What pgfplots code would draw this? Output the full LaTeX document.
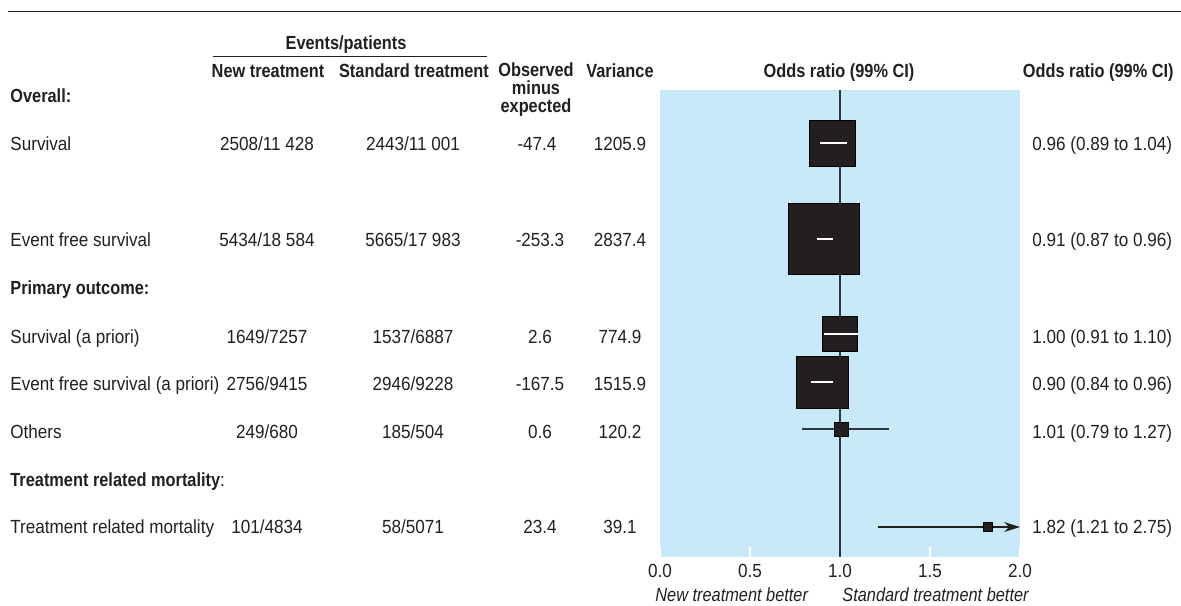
\documentclass[border=0pt]{standalone}
\usepackage{fontspec}
\setmainfont{Liberation Sans}[
  UprightFeatures={FakeStretch=0.9},
  BoldFeatures={FakeStretch=0.86},
  ItalicFeatures={FakeStretch=0.86}]
\usepackage{pgfplots}
\pgfplotsset{compat=1.18}
\usetikzlibrary{arrows.meta}

\definecolor{panel}{RGB}{199,233,248}
\definecolor{ink}{RGB}{35,31,32}
\definecolor{refline}{RGB}{45,56,62}
\newcommand\fs{\fontsize{9.5pt}{11pt}\selectfont}

\begin{document}
\begin{tikzpicture}
% forest panel: x = odds ratio, y = row position (px from the top)
\begin{axis}[
    at={(330pt,-278.5pt)}, anchor=south west,
    width=180pt, height=233.5pt, scale only axis,
    xmin=0, xmax=2, ymin=90, ymax=557, y dir=reverse,
    axis background/.style={fill=panel},
    axis line style={draw=none},
    xtick={0,0.5,1,1.5,2}, ytick=\empty,
    xtick pos=bottom, tick align=inside,
    major tick length=5pt,
    xtick style={white, line width=0.8pt},
    xticklabel style={font=\fs, text=ink},
    /pgf/number format/assume math mode=true,
    /pgf/number format/fixed,
    /pgf/number format/fixed zerofill,
    /pgf/number format/precision=1,
    clip=false, clip marker paths=true,
]
% line of no effect
\addplot[refline, line width=0.9pt] coordinates {(1,90) (1,557)};
% confidence intervals drawn outside the boxes
\addplot[refline, line width=0.6pt] coordinates {(0.79,429) (1.27,429)};
\addplot[ink, line width=0.6pt, -{Stealth[length=8pt,width=5pt]}] coordinates {(1.21,527) (2.0,527)};
% boxes, size by weight
\addplot[only marks, mark=square*, mark size=11.5pt, mark options={draw=none, fill=ink}] coordinates {(0.96,143)};
\addplot[only marks, mark=square*, mark size=17.75pt, mark options={draw=none, fill=ink}] coordinates {(0.91,239)};
\addplot[only marks, mark=square*, mark size=8.75pt, mark options={draw=none, fill=ink}] coordinates {(1.00,334)};
\addplot[only marks, mark=square*, mark size=13pt, mark options={draw=none, fill=ink}] coordinates {(0.90,382)};
\addplot[only marks, mark=square*, mark size=3.5pt, mark options={draw=none, fill=ink}] coordinates {(1.01,429)};
\addplot[only marks, mark=square*, mark size=2.25pt, mark options={draw=none, fill=ink}] coordinates {(1.82,527)};
% confidence intervals inside the boxes
\addplot[white, line width=0.7pt] coordinates {(0.89,143) (1.04,143)};
\addplot[white, line width=0.7pt] coordinates {(0.87,239) (0.96,239)};
\addplot[white, line width=0.7pt] coordinates {(0.91,334) (1.10,334)};
\addplot[white, line width=0.7pt] coordinates {(0.84,382) (0.96,382)};
\end{axis}

\begin{scope}[x=0.5pt, y=-0.5pt, every node/.style={font=\fs, inner sep=0pt, text=ink}]
\path[use as bounding box] (0,0) rectangle (1181,605);
\draw[ink, line width=0.65pt] (8,11.7) -- (1181,11.7);
\draw[ink, line width=0.5pt] (213,56.7) -- (487,56.7);

% headings
\node[anchor=base] at (346,49) {\bfseries Events/patients};
\node[anchor=base] at (268,77) {\bfseries New treatment};
\node[anchor=base] at (414,77) {\bfseries Standard treatment};
\node[anchor=base] at (536,76) {\bfseries Observed};
\node[anchor=base] at (536,94.5) {\bfseries minus};
\node[anchor=base] at (536,112) {\bfseries expected};
\node[anchor=base] at (620,77) {\bfseries Variance};
\node[anchor=base] at (839,77) {\bfseries Odds ratio (99\% CI)};
\node[anchor=base east] at (1174,77) {\bfseries Odds ratio (99\% CI)};

% groups
\node[anchor=base west] at (10,102) {\bfseries Overall:};
\node[anchor=base west] at (10,294.5) {\bfseries Primary outcome:};
\node[anchor=base west] at (10,486.5) {{\bfseries Treatment related mortality}:};

% rows: label, new, standard, O-E, variance, OR (99% CI)
\node[anchor=base west] at (10,150) {Survival};
\node[anchor=base] at (267,150) {2508/11 428};
\node[anchor=base] at (413,150) {2443/11 001};
\node[anchor=base] at (537,150) {-47.4};
\node[anchor=base] at (620,150) {1205.9};
\node[anchor=base west] at (1032,150) {0.96 (0.89 to 1.04)};

\node[anchor=base west] at (10,246.5) {Event free survival};
\node[anchor=base] at (267,246.5) {5434/18 584};
\node[anchor=base] at (413,246.5) {5665/17 983};
\node[anchor=base] at (540,246.5) {-253.3};
\node[anchor=base] at (620,246.5) {2837.4};
\node[anchor=base west] at (1032,246.5) {0.91 (0.87 to 0.96)};

\node[anchor=base west] at (10,343) {Survival (a priori)};
\node[anchor=base] at (267,343) {1649/7257};
\node[anchor=base] at (413,343) {1537/6887};
\node[anchor=base] at (540,343) {2.6};
\node[anchor=base] at (620,343) {774.9};
\node[anchor=base west] at (1032,343) {1.00 (0.91 to 1.10)};

\node[anchor=base west] at (10,390) {Event free survival (a priori)};
\node[anchor=base] at (267,390) {2756/9415};
\node[anchor=base] at (413,390) {2946/9228};
\node[anchor=base] at (540,390) {-167.5};
\node[anchor=base] at (620,390) {1515.9};
\node[anchor=base west] at (1032,390) {0.90 (0.84 to 0.96)};

\node[anchor=base west] at (10,438) {Others};
\node[anchor=base] at (267,438) {249/680};
\node[anchor=base] at (413,438) {185/504};
\node[anchor=base] at (540,438) {0.6};
\node[anchor=base] at (620,438) {120.2};
\node[anchor=base west] at (1032,438) {1.01 (0.79 to 1.27)};

\node[anchor=base west] at (10,533.5) {Treatment related mortality};
\node[anchor=base] at (267,533.5) {101/4834};
\node[anchor=base] at (413,533.5) {58/5071};
\node[anchor=base] at (540,533.5) {23.4};
\node[anchor=base] at (620,533.5) {39.1};
\node[anchor=base west] at (1032,533.5) {1.82 (1.21 to 2.75)};

% direction labels under the scale
\node[anchor=base west] at (655,601) {\itshape New treatment better};
\node[anchor=base west] at (842,601) {\itshape Standard treatment better};
\end{scope}
\end{tikzpicture}
\end{document}
